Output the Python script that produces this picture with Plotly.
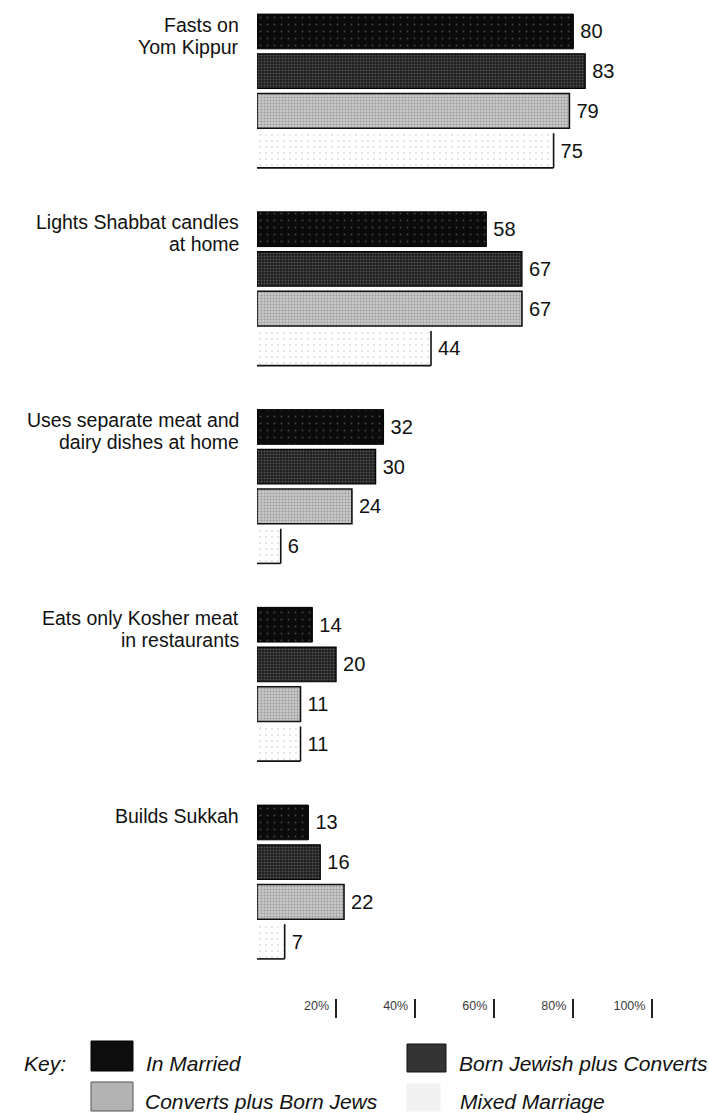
import plotly.graph_objects as go

# ---- data -------------------------------------------------------------
categories = [
    "Fasts on<br>Yom Kippur",
    "Lights Shabbat candles<br>at home",
    "Uses separate meat and<br>dairy dishes at home",
    "Eats only Kosher meat<br>in restaurants",
    "Builds Sukkah",
]
series_names = ["In Married", "Born Jewish plus Converts",
                "Converts plus Born Jews", "Mixed Marriage"]
in_married = [80, 58, 32, 14, 13]
born_jewish_plus_converts = [83, 67, 30, 20, 16]
converts_plus_born_jews = [79, 67, 24, 11, 22]
mixed_marriage = [75, 44, 6, 11, 7]
tick_values = [20, 40, 60, 80, 100]
tick_labels = ["20%", "40%", "60%", "80%", "100%"]

series_values = [in_married, born_jewish_plus_converts,
                 converts_plus_born_jews, mixed_marriage]

# ---- page geometry (pixels) ------------------------------------------
W, H = 709, 1113
M_L, M_R, M_T, M_B = 257, 17, 0, 95
PLOT_W = W - M_L - M_R
PLOT_H = H - M_T - M_B
BARGAP, GROUPGAP = 0.197, 0.126
Y_RANGE = [4.6877, -0.4602]          # reversed: first group on top

FONT = "Liberation Sans, Arial, Helvetica, sans-serif"

styles = [
    dict(bg="#0b0b0b", fg="#7a7a7a", size=7, solidity=0.06, line="#000000", lw=1),
    dict(bg="#1c1c1c", fg="#8c8c8c", size=3, solidity=0.35, line="#000000", lw=1.2),
    dict(bg="#c9c9c9", fg="#6a6a6a", size=3, solidity=0.35, line="#111111", lw=1.6),
    dict(bg="#ffffff", fg="#b8b8b8", size=6, solidity=0.08, line="#ffffff", lw=0),
]


def px_x(px):
    return (px - M_L) / PLOT_W


def px_y(py):
    return (H - M_B - py) / PLOT_H


positions = list(range(len(categories)))

fig = go.Figure()
for name, vals, st in zip(series_names, series_values, styles):
    fig.add_trace(go.Bar(
        orientation="h",
        y=positions,
        x=vals,
        name=name,
        marker=dict(
            color=st["bg"],
            line=dict(color=st["line"], width=st["lw"]),
            pattern=dict(shape=".", bgcolor=st["bg"], fgcolor=st["fg"],
                         size=st["size"], solidity=st["solidity"]),
        ),
        text=[str(v) for v in vals],
        texttemplate="\u2009%{text}",
        textposition="outside",
        textfont=dict(family=FONT, size=20, color="#111111"),
        cliponaxis=False,
        showlegend=False,
        hoverinfo="skip",
    ))

# right and bottom edges of the Mixed Marriage bars
slot = (1 - BARGAP) / len(series_names)
half = slot * (1 - GROUPGAP) / 2
mix_off = (len(series_names) - 1) / 2 * slot
for p, v in zip(positions, mixed_marriage):
    top, bot = p + mix_off - half, p + mix_off + half
    fig.add_shape(type="line", xref="x", yref="y", x0=v, x1=v, y0=top, y1=bot,
                  line=dict(color="#111111", width=1.6))
    fig.add_shape(type="line", xref="x", yref="y", x0=0, x1=v, y0=bot, y1=bot,
                  line=dict(color="#111111", width=1.6))

# category labels, right-aligned beside the top of each group
group_top_shift = (len(series_names) / 2) * slot * PLOT_H / (Y_RANGE[0] - Y_RANGE[1])
for p, label in zip(positions, categories):
    for j, line in enumerate(label.split("<br>")):
        fig.add_annotation(
            x=0, y=p, xref="x", yref="y", text=line, showarrow=False,
            xanchor="right", yanchor="top", xshift=-16,
            yshift=group_top_shift - 22 * j,
            font=dict(family=FONT, size=19.5, color="#111111"),
        )

# key
fig.add_annotation(x=px_x(22), y=px_y(1063), xref="paper", yref="paper",
                   text="<i>Key:</i>", showarrow=False, xanchor="left",
                   yanchor="middle", font=dict(family=FONT, size=21, color="#111111"))
key_items = [
    (series_names[0], (91, 1041, 133, 1071), "#0e0e0e", "#000000", (144, 1063)),
    (series_names[1], (407, 1044, 446, 1072), "#343434", "#111111", (457, 1063)),
    (series_names[2], (91, 1082, 133, 1111), "#b3b3b3", "#555555", (143, 1101)),
    (series_names[3], (407, 1084, 440, 1111), "#f1f1f1", "#f1f1f1", (458, 1101)),
]
for name, (x0, y0, x1, y1), fill, edge, (tx, ty) in key_items:
    fig.add_shape(type="rect", xref="paper", yref="paper",
                  x0=px_x(x0), x1=px_x(x1), y0=px_y(y1), y1=px_y(y0),
                  fillcolor=fill, line=dict(color=edge, width=1))
    fig.add_annotation(x=px_x(tx), y=px_y(ty), xref="paper", yref="paper",
                       text=f"<i>{name}</i>", showarrow=False, xanchor="left",
                       yanchor="middle", font=dict(family=FONT, size=21, color="#111111"))

fig.update_layout(
    width=W, height=H,
    margin=dict(l=M_L, r=M_R, t=M_T, b=M_B, pad=0),
    paper_bgcolor="white", plot_bgcolor="white",
    barmode="group", bargap=BARGAP, bargroupgap=GROUPGAP,
    font=dict(family=FONT, color="#111111"),
    xaxis=dict(range=[0, 110], showgrid=False, zeroline=False, showline=False,
               ticks="inside", ticklen=19, tickwidth=1.5, tickcolor="#222222",
               tickvals=tick_values, ticktext=[t + "\u2002" for t in tick_labels],
               ticklabelposition="inside left",
               tickfont=dict(family=FONT, size=12.5, color="#3a3a3a")),
    yaxis=dict(range=Y_RANGE, visible=False, showgrid=False, zeroline=False),
)

fig.write_html("out.html")
